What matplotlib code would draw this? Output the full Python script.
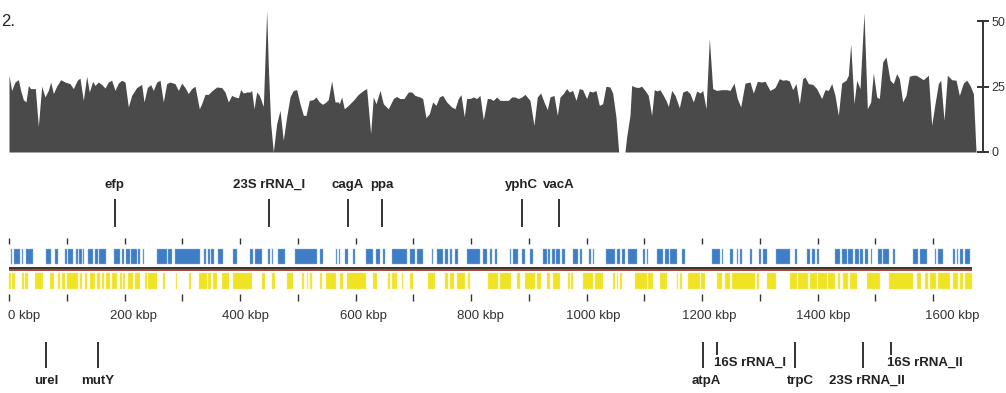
import matplotlib
matplotlib.use('Agg')
import matplotlib.pyplot as plt

plt.rcParams['font.family'] = ['Liberation Sans', 'DejaVu Sans']

# ---------------- data ----------------
genome_len = 1667  # kbp

cov_kbp = [0, 4.6, 10.4, 16.2, 20.2, 24.8, 29.4, 33.5, 37.5, 42.1, 45.6, 50.8, 56.6, 62.3, 68.1, 72.2,
           76.8, 82.5, 89.5, 97.0, 105.6, 111.4, 118.3, 122.9, 128.7, 134.5, 139.1, 144.9, 148.9, 154.7,
           160.5, 166.2, 172.0, 177.8, 183.5, 189.3, 195.1, 200.9, 206.6, 212.4, 221.1, 229.7, 233.8,
           239.5, 245.3, 249.9, 255.7, 261.5, 267.2, 273.0, 278.8, 287.4, 293.2, 299.0, 304.8, 310.5,
           316.3, 322.1, 329.6, 333.6, 339.4, 345.2, 350.9, 359.6, 368.3, 374.0, 379.8, 385.6, 391.3,
           397.1, 401.2, 405.8, 411.5, 417.3, 420.2, 424.2, 428.9, 433.5, 440.4, 446.2, 449.1, 453.1,
           457.7, 463.5, 469.3, 475.0, 480.8, 486.6, 492.3, 498.1, 503.9, 509.7, 514.3, 520.0, 526.9,
           531.6, 537.3, 543.1, 548.9, 552.9, 558.7, 564.5, 570.3, 572.0, 576.0, 580.6, 587.5, 596.2,
           604.9, 613.5, 619.3, 626.2, 630.8, 635.5, 642.4, 648.2, 656.8, 665.5, 671.2, 677.0, 683.9,
           691.4, 697.2, 703.0, 711.6, 716.3, 722.0, 727.8, 733.6, 739.4, 745.1, 750.9, 757.8, 766.5,
           772.3, 778.0, 782.6, 788.4, 792.5, 798.2, 804.0, 809.8, 815.5, 821.3, 828.2, 832.9, 838.6,
           844.4, 850.2, 858.8, 864.6, 870.4, 876.1, 881.9, 887.7, 893.5, 902.1, 909.0, 914.8, 920.6,
           926.4, 932.1, 936.8, 943.7, 949.5, 954.1, 959.8, 965.6, 970.2, 976.0, 981.8, 987.5, 993.3,
           1000.2, 1004.9, 1010.6, 1016.4, 1022.2, 1027.9, 1033.7, 1040.6, 1045.3, 1051.0, 1055.7,
           1066.6, 1069.5, 1075.3, 1078.2, 1084.0, 1089.7, 1095.5, 1101.3, 1107.0, 1112.8, 1117.4,
           1122.6, 1127.2, 1133.0, 1137.6, 1141.7, 1147.5, 1153.3, 1160.8, 1166.6, 1173.5, 1179.2,
           1185.0, 1190.8, 1196.6, 1201.2, 1207.0, 1212.7, 1218.5, 1225.4, 1234.1, 1242.7, 1248.5,
           1255.4, 1261.2, 1267.0, 1274.5, 1283.1, 1288.9, 1295.8, 1303.3, 1309.1, 1317.8, 1326.4,
           1334.0, 1339.7, 1345.5, 1351.3, 1357.0, 1362.8, 1368.6, 1374.3, 1378.4, 1384.2, 1391.7,
           1398.6, 1407.2, 1413.0, 1418.8, 1424.6, 1430.3, 1436.1, 1441.9, 1449.4, 1453.4, 1457.5,
           1463.2, 1467.9, 1473.6, 1480.5, 1486.3, 1492.1, 1496.7, 1502.5, 1507.1, 1512.9, 1518.6,
           1525.6, 1531.3, 1537.1, 1541.7, 1547.5, 1553.3, 1559.0, 1564.8, 1570.6, 1577.5, 1583.3,
           1592.0, 1597.7, 1603.5, 1609.3, 1613.3, 1619.1, 1624.9, 1632.4, 1639.9, 1645.6, 1652.6,
           1658.4, 1664.1, 1669.9, 1674.5]
cov_val = [29.3, 23.5, 26.7, 27.6, 23.5, 20.0, 19.1, 25.4, 24.2, 24.2, 24.2, 9.8, 25.1, 21.0, 23.5, 26.7,
           22.3, 25.1, 27.6, 26.7, 26.1, 24.2, 27.4, 28.2, 19.7, 28.9, 22.9, 27.0, 25.4, 26.7,
           25.8, 24.4, 26.7, 27.4, 23.5, 26.3, 27.4, 26.7, 17.2, 21.6, 24.6, 25.8, 19.1,
           24.6, 25.7, 23.5, 26.7, 27.4, 19.1, 26.1, 26.7, 26.1, 23.5, 26.3, 24.6, 22.3,
           24.2, 25.1, 16.5, 18.4, 22.0, 22.0, 23.3, 24.8, 24.6, 22.9, 19.1, 21.6, 21.0,
           20.7, 23.8, 22.5, 22.9, 22.9, 23.5, 16.5, 22.9, 21.6, 17.4, 54.1, 32.4, 10.8,
           0.0, 10.8, 15.9, 4.5, 13.4, 21.0, 23.5, 23.8, 18.4, 14.0, 14.0, 19.7, 20.0,
           21.0, 19.1, 18.2, 19.1, 20.0, 27.1, 19.1, 19.1, 18.4, 21.0, 16.5, 17.8, 19.7,
           22.0, 23.5, 24.2, 7.0, 21.0, 18.4, 23.5, 18.4, 16.5, 20.4, 21.2, 20.4, 20.4,
           22.9, 22.9, 21.6, 21.0, 20.4, 13.1, 14.6, 19.1, 17.8, 21.0, 21.6, 19.1, 17.2,
           16.5, 20.4, 21.9, 13.4, 20.4, 20.4, 21.0, 20.4, 21.6, 12.3, 20.4, 20.4, 19.7,
           21.0, 19.7, 19.7, 19.7, 21.0, 21.0, 20.4, 21.0, 22.0, 19.7, 10.2, 21.0, 22.5,
           19.1, 16.2, 21.0, 21.6, 14.0, 21.0, 22.3, 24.2, 22.9, 23.5, 19.7, 24.2, 23.8,
           20.4, 23.3, 22.9, 23.5, 17.8, 18.4, 25.1, 24.8, 22.5, 13.4, 0.0,
           0.0, 5.7, 14.0, 25.4, 24.8, 24.6, 25.1, 23.5, 21.6, 14.0, 23.8,
           23.3, 23.8, 21.6, 19.7, 17.4, 23.5, 21.6, 16.9, 22.9, 23.5, 22.3,
           19.1, 23.3, 22.5, 23.5, 16.5, 43.3, 24.2, 23.5, 23.8, 23.8, 23.5,
           26.3, 20.4, 17.2, 26.3, 26.7, 22.5, 27.0, 26.7, 27.0, 23.5, 24.6,
           28.0, 27.4, 27.6, 27.1, 23.8, 26.1, 18.4, 28.0, 28.6, 26.1, 25.8,
           24.2, 20.4, 23.8, 23.5, 26.1, 21.6, 14.0, 26.3, 27.4, 29.3, 41.3,
           18.4, 27.4, 24.2, 53.1, 16.5, 19.1, 30.2, 21.0, 20.4, 34.4, 36.3,
           27.4, 26.1, 29.9, 28.0, 19.1, 21.6, 28.9, 29.3, 29.3, 28.4, 27.6,
           29.3, 10.2, 18.4, 26.1, 27.4, 12.1, 29.3, 27.6, 27.4, 21.6, 26.3,
           27.4, 25.4, 22.3, 0.0]
cov_ticks = [0, 25, 50]

plus_start = [3.5, 9.2, 23, 29, 63.5, 80, 97, 102, 116, 122, 128, 136, 149, 156, 182, 196, 203, 212, 224,
              232.5, 257, 276, 287, 338, 345, 350, 362, 388, 417, 426, 449, 455, 465, 495, 538.5, 566,
              572, 582, 596, 618, 635.5, 648, 663, 694, 706, 732, 740.6, 755, 764, 772, 792.5, 821,
              833, 842, 867.5, 873, 888, 902, 925, 934, 940, 948, 957, 977, 989, 1005, 1012, 1034,
              1052, 1061, 1072, 1098, 1104, 1121.5, 1136, 1145, 1165, 1217, 1234, 1249, 1260, 1266,
              1283, 1299, 1305, 1329, 1361, 1382, 1390, 1399, 1430, 1442, 1453, 1465, 1474, 1482,
              1492, 1505, 1514, 1531, 1566, 1578, 1604, 1609, 1635, 1641, 1647, 1656]
plus_end = [5.8, 19, 25, 42, 72, 84, 100, 110, 119, 126, 130, 146, 154, 168, 192, 199, 210, 221, 227,
            234, 273, 282, 331, 341, 348, 355, 370, 394, 423, 437.6, 452, 458, 478, 533, 544, 568.5,
            574, 587.5, 599, 631, 642, 651, 689, 703, 717.5, 735, 752, 761, 766.5, 778, 815.6, 827,
            836, 845, 870, 882, 893.5, 908, 931, 937, 945.5, 954, 963, 986, 992, 1007, 1013.5, 1049,
            1058, 1067, 1087, 1101, 1107, 1133, 1142, 1156, 1171, 1231, 1237, 1254, 1263, 1269,
            1286, 1303, 1312, 1352, 1365, 1387, 1396, 1403, 1439, 1451, 1462, 1471, 1479, 1488,
            1495, 1511, 1524, 1534, 1574.5, 1589, 1606, 1618, 1638, 1644, 1652, 1664]

minus_start = [0.6, 4.6, 22, 27.7, 45, 71, 85.4, 91, 100, 123, 131.6, 140, 153, 160.5, 168, 178, 192, 198,
               206.6, 218, 235.5, 241, 267, 290, 312, 329, 344, 354, 368, 388, 437.6, 455, 481, 507,
               515.5, 521, 538.5, 549, 573, 585, 631, 657, 663, 680, 694, 726, 755, 764, 775, 795,
               830, 850, 879, 893.5, 914, 931, 942.5, 968.5, 974, 994.5, 1015, 1046, 1052, 1058, 1084,
               1107, 1127, 1156, 1162, 1176, 1199, 1225.5, 1240, 1251.5, 1295, 1312, 1352, 1367, 1387,
               1401, 1419, 1436, 1445, 1456, 1485, 1523, 1572, 1586, 1595, 1609, 1635, 1647, 1656]
minus_end = [2.9, 10.4, 26, 33.5, 59.4, 78, 88.3, 97, 120, 126, 135.6, 149, 157.6, 164.5, 175, 186.5, 195,
             201, 215, 227, 238.4, 255.7, 270, 291.5, 316, 342, 349, 360, 381.5, 420, 443, 460.6, 492,
             510, 518, 524, 541.5, 567, 579, 619, 637, 660, 671, 683, 700, 738, 761, 771, 790, 798,
             847, 870, 885, 911, 922, 937, 954, 971.5, 977, 1012, 1029, 1049, 1055, 1061, 1104,
             1116, 1139, 1159, 1165, 1197, 1205, 1234, 1249, 1292, 1299, 1329, 1364, 1384, 1399,
             1416, 1430, 1439, 1452, 1468, 1508, 1566, 1580, 1592, 1606, 1629, 1644, 1652, 1667]

scale_ticks = list(range(0, 1700, 100))
scale_labels = ['0 kbp', '200 kbp', '400 kbp', '600 kbp', '800 kbp', '1000 kbp', '1200 kbp',
                '1400 kbp', '1600 kbp']
scale_label_pos = [26, 215, 410, 613, 816, 1011, 1212, 1410, 1633]

top_genes = ['efp', '23S rRNA_I', 'cagA', 'ppa', 'yphC', 'vacA']
top_pos = [183, 450, 587, 646, 888, 952]

bottom_genes = ['ureI', 'mutY', 'atpA', '16S rRNA_I', 'trpC', '23S rRNA_II', '16S rRNA_II']
bottom_pos = [64, 154, 1202, 1226, 1361, 1479, 1527]

# ---------------- layout ----------------
W, H = 1006, 393
fig = plt.figure(figsize=(W / 100, H / 100), dpi=100)
px_per_kbp = 0.5775
x0_px = 9

# coverage axes
cov_top, cov_bot, cov_right = 6, 152, 983
ax = fig.add_axes([x0_px / W, 1 - cov_bot / H, (cov_right - x0_px) / W, (cov_bot - cov_top) / H])
ax.set_xlim(0, (cov_right - x0_px) / px_per_kbp)
ax.set_ylim(0, (cov_bot - cov_top) / 2.62)
ax.fill_between(cov_kbp, cov_val, 0, color='#4a4a4a', lw=0)
for s in ['left', 'top', 'bottom']:
    ax.spines[s].set_visible(False)
ax.spines['right'].set_bounds(0, 50)
ax.spines['right'].set_color('#333333')
ax.spines['right'].set_linewidth(1.4)
ax.yaxis.tick_right()
ax.set_yticks(cov_ticks)
ax.set_yticklabels([str(t) for t in cov_ticks])
ax.tick_params(axis='y', direction='inout', length=9, width=1.4, colors='#333333',
               labelsize=9, pad=1.5)
ax.set_xticks([])
ax.patch.set_alpha(0)

# gene track axes (y in pixel rows)
ax2 = fig.add_axes([0, 0, 1, (H - 158) / H])
ax2.set_xlim(-x0_px / px_per_kbp, (W - x0_px) / px_per_kbp)
ax2.set_ylim(H, 158)
ax2.axis('off')

plus_bars = [(s, e - s) for s, e in zip(plus_start, plus_end)]
minus_bars = [(s, e - s) for s, e in zip(minus_start, minus_end)]
ax2.broken_barh(plus_bars, (249, 15), facecolors='#3f7ec6', edgecolors='#8fb4e0', linewidth=0.3)
ax2.broken_barh(minus_bars, (273, 16), facecolors='#f0e324', edgecolors='#f6ee80', linewidth=0.3)

ax2.plot([0, genome_len], [268.3, 268.3], color='#1e0b06', lw=1.2, solid_capstyle='butt')
ax2.plot([0, genome_len], [270.0, 270.0], color='#8a2a1a', lw=1.2, solid_capstyle='butt')

ax2.vlines(scale_ticks, 238, 244, color='#333333', lw=1.0)
ax2.vlines(scale_ticks, 294, 301, color='#333333', lw=1.0)
for lab, p in zip(scale_labels, scale_label_pos):
    ax2.text(p, 316, lab, ha='center', va='center', fontsize=9.5, color='#333333')

txt_kw = dict(fontsize=9.5, fontweight='bold', color='#222222')
ax2.vlines(top_pos, 199, 227, color='#222222', lw=1.3)
for g, p in zip(top_genes, top_pos):
    ax2.text(p, 185, g, ha='center', va='center', **txt_kw)

short = {'16S rRNA_I', '16S rRNA_II'}
label_shift = {'trpC': 10, '23S rRNA_II': 6, 'atpA': 5}
for g, p in zip(bottom_genes, bottom_pos):
    if g in short:
        ax2.vlines(p, 342, 355, color='#222222', lw=1.3)
        ax2.text(p - 6, 363, g, ha='left', va='center', **txt_kw)
    else:
        ax2.vlines(p, 342, 368, color='#222222', lw=1.3)
        ax2.text(p + label_shift.get(g, 0), 381, g, ha='center', va='center', **txt_kw)

# panel label at the top-left corner
fig.text(1 / W, 1 - 26 / H, '2.', ha='left', va='baseline', fontsize=12, color='#222222')

fig.savefig('out.png', dpi=100)
